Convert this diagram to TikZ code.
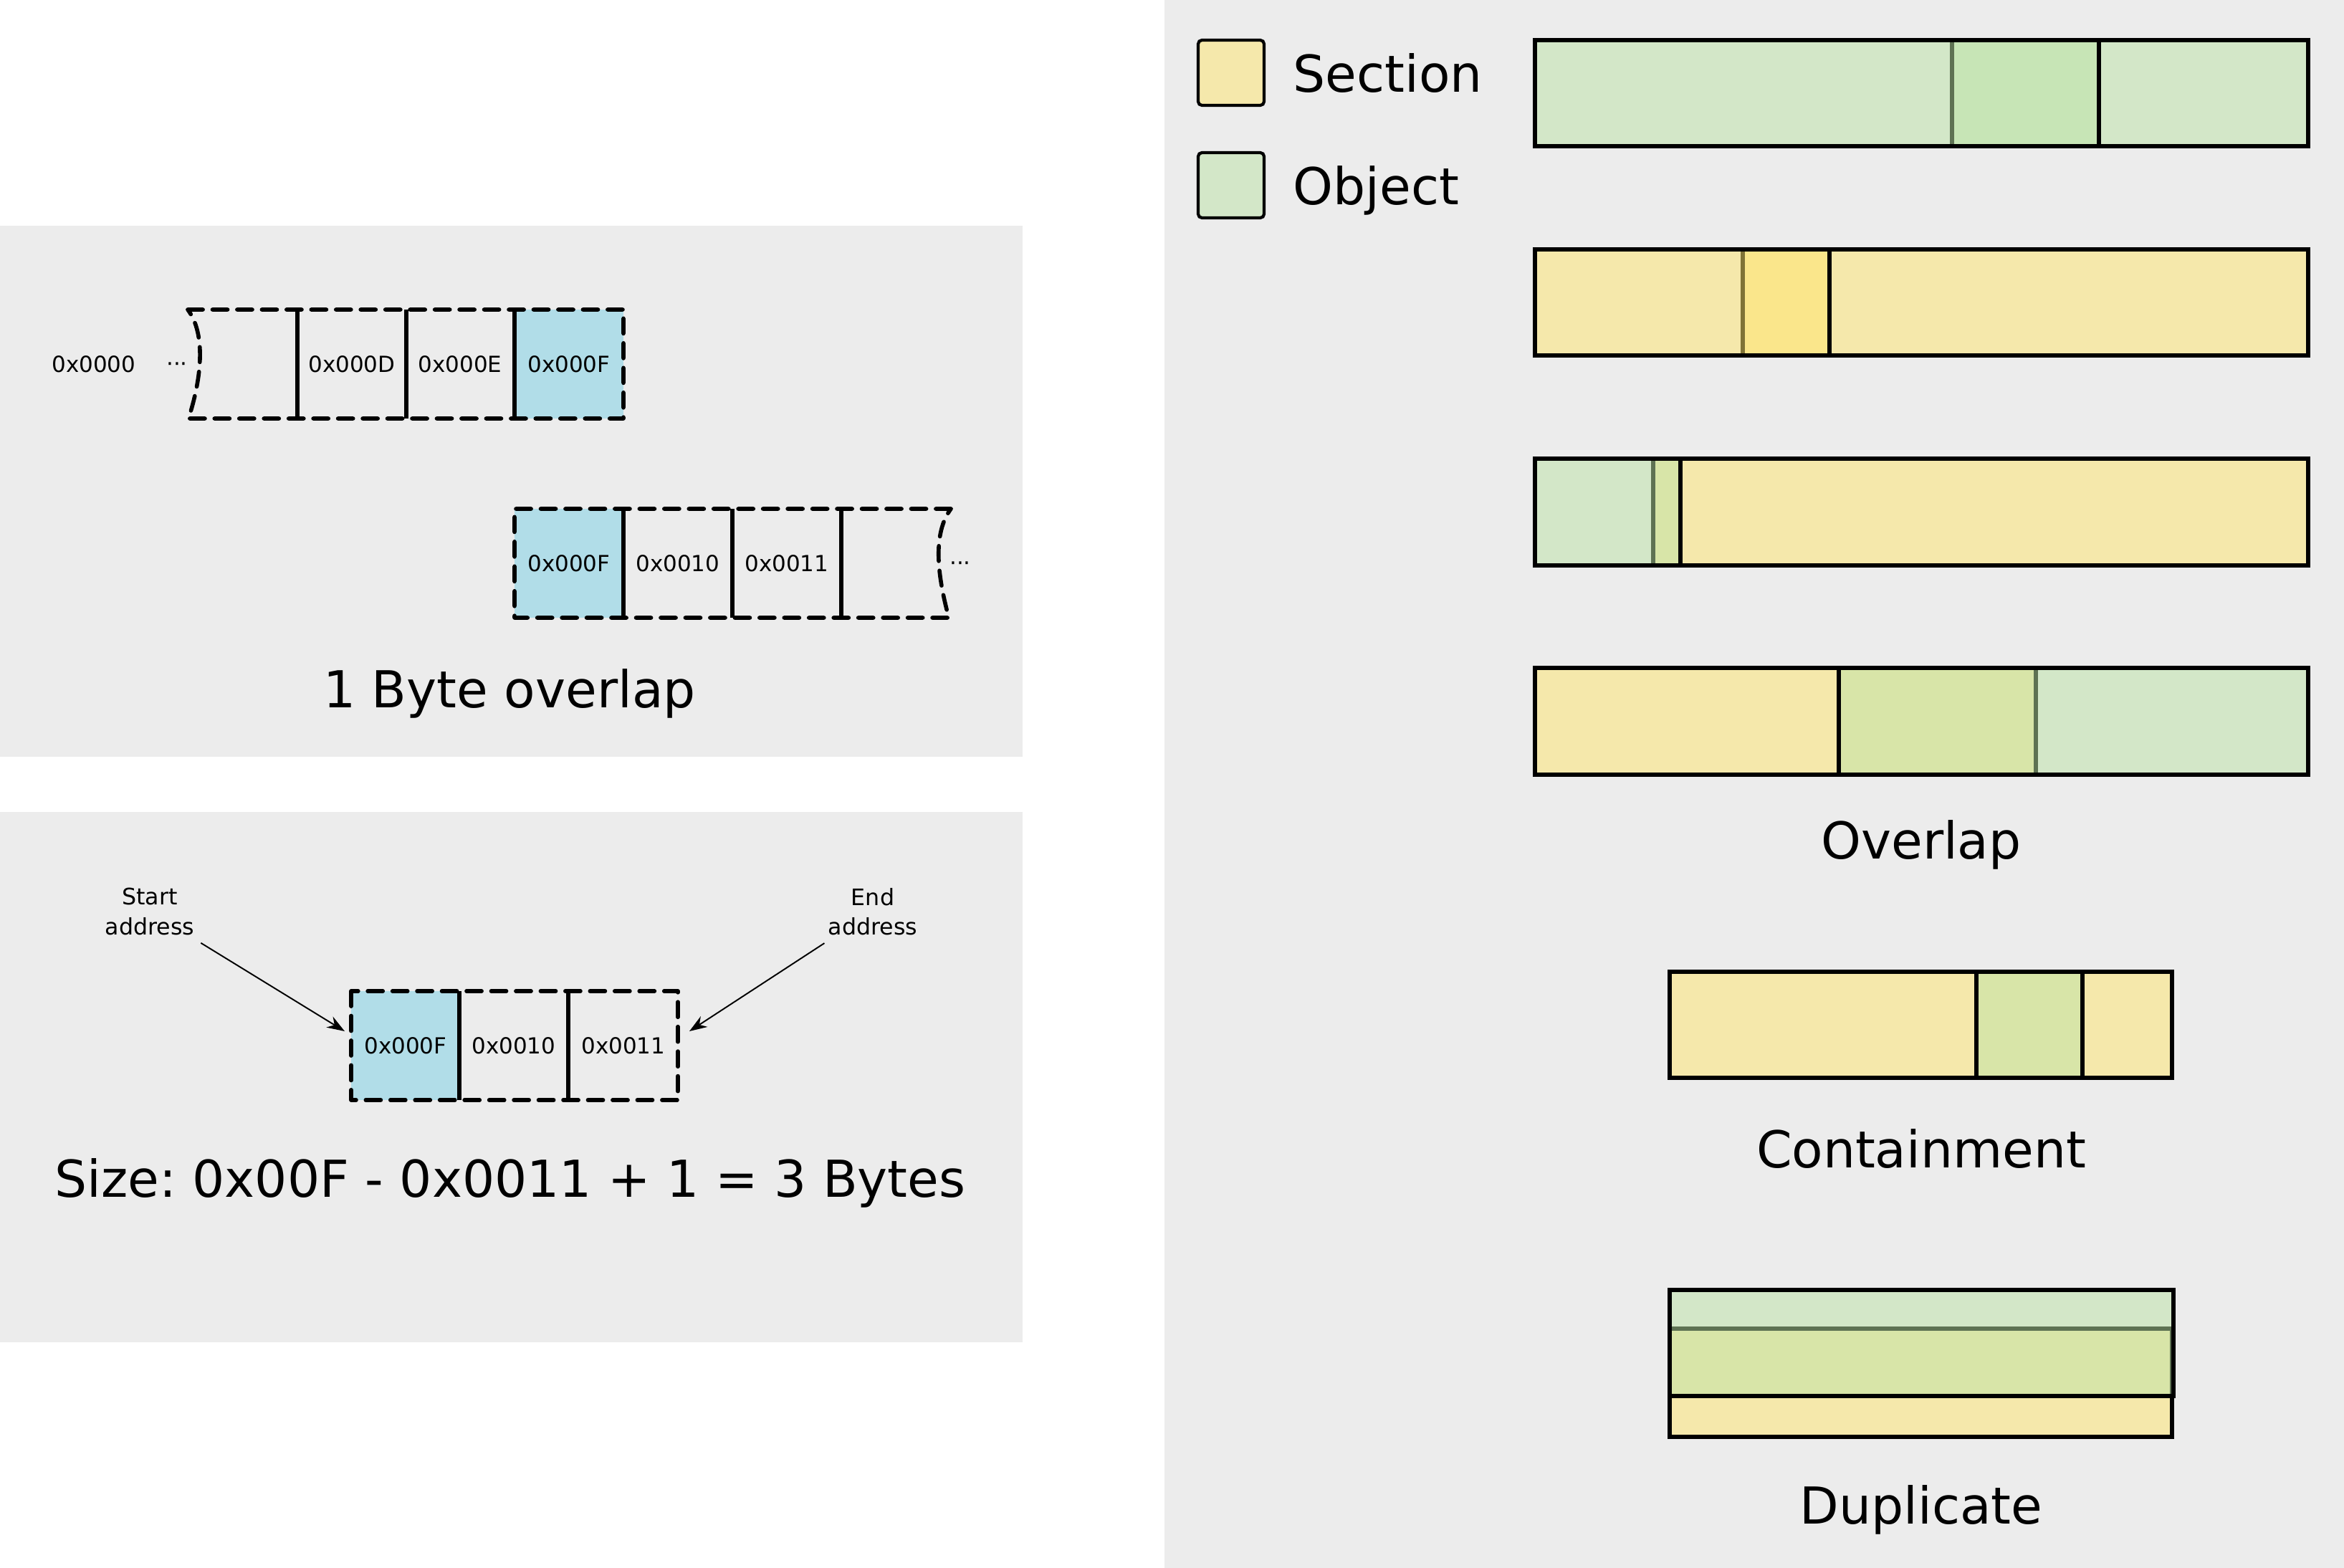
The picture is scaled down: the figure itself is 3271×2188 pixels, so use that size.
\documentclass[tikz,border=0pt]{standalone}
\usepackage{fontspec}
\setmainfont{DejaVu Sans}
\usetikzlibrary{arrows.meta,fit}
\definecolor{bg}{HTML}{ECECEC}
\definecolor{secc}{RGB}{255,230,108}
\definecolor{objc}{RGB}{188,228,166}
\definecolor{cellblue}{HTML}{B1DDE8}
\frenchspacing
\begin{document}
\begin{tikzpicture}[x=0.01cm,y=-0.01cm,
  panel/.style={fill=bg,draw=none},
  secbox/.style={draw=black,line width=1.45pt,fill=secc,fill opacity=0.5,draw opacity=1,text opacity=1,inner sep=0pt,outer sep=0pt},
  objbox/.style={draw=black,line width=1.45pt,fill=objc,fill opacity=0.5,draw opacity=1,text opacity=1,inner sep=0pt,outer sep=0pt},
  legbox/.style={rounded corners=1.5pt,line width=1.2pt},
  bigtxt/.style={font=\fontsize{20.2}{24.6}\selectfont,inner sep=0pt},
  celltxt/.style={font=\fontsize{8.8}{11.7}\selectfont,inner sep=0pt},
  addrtxt/.style={font=\fontsize{9}{11.7}\selectfont,align=center,inner sep=3pt},
  dashline/.style={line width=1.6pt,dash pattern=on 6pt off 3.8pt,line cap=round,line join=round},
  divline/.style={line width=1.6pt},
  arr/.style={line width=0.55pt,-{Stealth[length=7pt,width=5pt]}}
]
\useasboundingbox (0,0) rectangle (3271,2188);
% panels
\fill[panel] (0,315) rectangle (1427,1056);
\fill[panel] (0,1133) rectangle (1427,1873);
\fill[panel] (1625,0) rectangle (3271,2188);

% ---------- panel 1, row 1 ----------
\fill[cellblue] (718,432) rectangle (870,584);
\draw[divline] (415,432) -- (415,584);
\draw[divline] (567,432) -- (567,584);
\draw[divline] (718,432) -- (718,584);
\draw[dashline] (262,432) -- (870,432) -- (870,584) -- (263,584)
  .. controls (276,545) and (292,472) .. (262,432);
\node[celltxt] (r1a) at (131,508) {0x0000};
\node[celltxt] (r1dots) at (247,512) {···};
\node[celltxt] (r1d) at (491,508) {0x000D};
\node[celltxt] (r1e) at (642,508) {0x000E};
\node[celltxt] (r1f) at (794,508) {0x000F};

% ---------- panel 1, row 2 ----------
\fill[cellblue] (718,710) rectangle (870,862);
\draw[divline] (870,710) -- (870,862);
\draw[divline] (1022,710) -- (1022,862);
\draw[divline] (1174,710) -- (1174,862);
\draw[dashline] (1327,710) -- (718,710) -- (718,862) -- (1324,862)
  .. controls (1313,820) and (1297,750) .. (1327,710);
\node[celltxt] (r2f) at (794,786) {0x000F};
\node[celltxt] (r2a) at (946,786) {0x0010};
\node[celltxt] (r2b) at (1098,786) {0x0011};
\node[celltxt] (r2dots) at (1340,790) {···};
\node[bigtxt] (ovl1) at (711,968) {1 Byte overlap};

% ---------- panel 2 ----------
\fill[cellblue] (490,1383) rectangle (641,1535);
\draw[divline] (641,1383) -- (641,1535);
\draw[divline] (793,1383) -- (793,1535);
\draw[dashline] (490,1383) rectangle (946,1535);
\node[celltxt] (p2f) at (566,1459) {0x000F};
\node[celltxt] (p2a) at (717,1459) {0x0010};
\node[celltxt] (p2b) at (870,1459) {0x0011};
\node[addrtxt] (startlbl) at (209,1272) {Start\\address};
\node[addrtxt] (endlbl) at (1218,1272) {End\\address};
\coordinate (starttip) at (481,1439);
\coordinate (endtip) at (962,1439);
\draw[arr] (startlbl) -- (starttip);
\draw[arr] (endlbl) -- (endtip);
\node[bigtxt] (sizelbl) at (712,1651) {Size: 0x00F - 0x0011 + 1 = 3 Bytes};

% ---------- legend ----------
\node[secbox,legbox,fit={(1672,56) (1764,147)}] (legsec) {};
\node[objbox,legbox,fit={(1672,213) (1764,304)}] (legobj) {};
\node[bigtxt,anchor=base west] (legsect) at (1804,129) {Section};
\node[bigtxt,anchor=base west] (legobjt) at (1804,286) {Object};

% ---------- bar 1: object / object ----------
\node[objbox,fit={(2724,56) (3221,204)}] (b1b) {};
\node[objbox,fit={(2142,56) (2929,204)}] (b1a) {};
% ---------- bar 2: section / section ----------
\node[secbox,fit={(2432,348) (3221,496)}] (b2b) {};
\node[secbox,fit={(2142,348) (2553,496)}] (b2a) {};
% ---------- bar 3 ----------
\node[secbox,fit={(2307,640) (3221,789)}] (b3s) {};
\node[objbox,fit={(2142,640) (2345,789)}] (b3o) {};
% ---------- bar 4 ----------
\node[secbox,fit={(2142,932) (2841,1081)}] (b4s) {};
\node[objbox,fit={(2566,932) (3221,1081)}] (b4o) {};
\node[bigtxt] (ovllbl) at (2681,1179) {Overlap};

% ---------- containment ----------
\node[secbox,fit={(2330,1356) (3031,1504)}] (cs) {};
\node[objbox,fit={(2758,1356) (2906,1504)}] (co) {};
\node[bigtxt] (contlbl) at (2681,1603) {Containment};

% ---------- duplicate ----------
\node[secbox,fit={(2330,1854) (3031,2005)}] (ds) {};
\node[objbox,fit={(2330,1800) (3033,1948)}] (do) {};
\node[bigtxt] (duplbl) at (2681,2107) {Duplicate};
\end{tikzpicture}
\end{document}
